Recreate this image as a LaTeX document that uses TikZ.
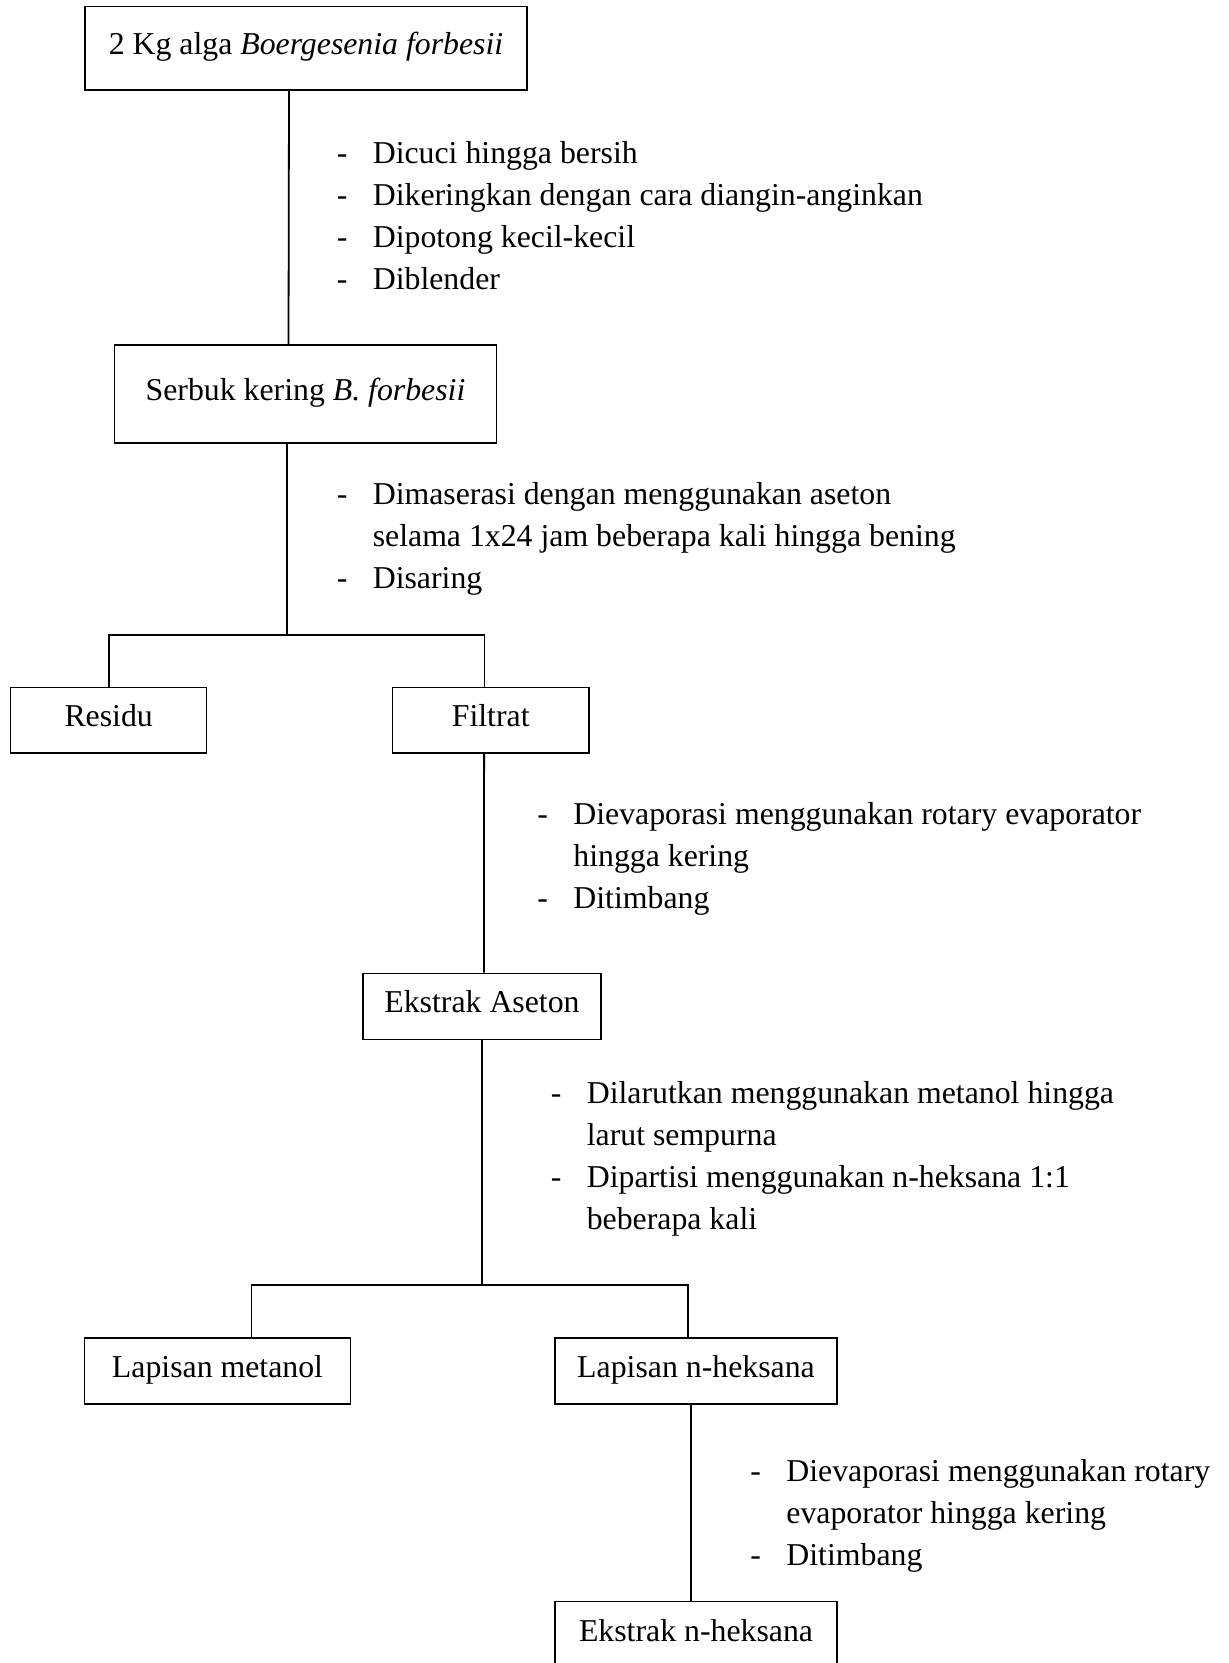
\documentclass[tikz,border=0pt]{standalone}
\usepackage{fontspec}
\setmainfont{Liberation Serif}
\usepackage{tikz}

\begin{document}
\begin{tikzpicture}[x=0.5pt,y=-0.5pt,
        box/.style={draw,line width=0.7pt,inner sep=0pt,minimum height=33pt,
            font=\fontsize{15.9}{21}\selectfont,text height=0.82em,text depth=0.18em},
        steps/.style={anchor=base west,inner sep=0pt,font=\fontsize{15.9}{21}\selectfont},
        link/.style={line width=0.9pt}]
        \useasboundingbox (0,0) rectangle (1229,1663);
        \clip (0,0) rectangle (1229,1663);
        \node[box,minimum width=221pt,minimum height=41.6pt] (alga) at (306,48.3) {2 Kg alga \textit{Boergesenia forbesii}};
        \node[box,minimum width=191pt,minimum height=49pt] (serbuk) at (305.5,394) {Serbuk kering \textit{B. forbesii}};
        \node[box,minimum width=98pt,minimum height=32.7pt] (residu) at (108.7,720.3) {Residu};
        \node[box,minimum width=98.3pt,minimum height=32.7pt] (filtrat) at (490.7,720.3) {Filtrat};
        \node[box,minimum width=119pt] (aseton) at (482,1006.3) {Ekstrak Aseton};
        \node[box,minimum width=132.8pt] (metanol) at (217.5,1371) {Lapisan metanol};
        \node[box,minimum width=141pt] (nheks) at (696,1371) {Lapisan n-heksana};
        \node[box,minimum width=141pt] (ekstrak) at (696,1634.7) {Ekstrak n-heksana};
        \node[steps] (cuci) at (336.4,164) {\begin{tabular}[t]{@{}p{18pt}@{}l@{}}
            - & Dicuci hingga bersih\\
            - & Dikeringkan dengan cara diangin-anginkan\\
            - & Dipotong kecil-kecil\\
            - & Diblender
        \end{tabular}};
        \node[steps] (maserasi) at (336.4,504) {\begin{tabular}[t]{@{}p{18pt}@{}l@{}}
            - & Dimaserasi dengan menggunakan aseton\\
              & selama 1x24 jam beberapa kali hingga bening\\
            - & Disaring
        \end{tabular}};
        \node[steps] (evap) at (537,824) {\begin{tabular}[t]{@{}p{18pt}@{}l@{}}
            - & Dievaporasi menggunakan rotary evaporator\\
              & hingga kering\\
            - & Ditimbang
        \end{tabular}};
        \node[steps] (partisi) at (550.4,1103.3) {\begin{tabular}[t]{@{}p{18pt}@{}l@{}}
            - & Dilarutkan menggunakan metanol hingga\\
              & larut sempurna\\
            - & Dipartisi menggunakan n-heksana 1:1\\
              & beberapa kali
        \end{tabular}};
        \node[steps] (evapb) at (750,1481) {\begin{tabular}[t]{@{}p{18pt}@{}l@{}}
            - & Dievaporasi menggunakan rotary\\
              & evaporator hingga kering\\
            - & Ditimbang
        \end{tabular}};
        \coordinate (pisah1) at (287,635);
        \coordinate (pisah2) at (482,1285);
        \draw[link] ([xshift=-8.5pt]alga.south) -- ([xshift=-8.5pt]serbuk.north);
        \draw[link] ([xshift=-9.25pt]serbuk.south) -- (pisah1);
        \draw[link] (residu.north) |- (pisah1) -| ([xshift=-3.1pt]filtrat.north);
        \draw[link] ([xshift=-3.3pt]filtrat.south) -- ([xshift=1pt]aseton.north);
        \draw[link] (aseton.south) -- (pisah2);
        \draw[link] ([xshift=17pt]metanol.north) |- (pisah2) -| ([xshift=-4pt]nheks.north);
        \draw[link] ([xshift=-2.7pt]nheks.south) -- ([xshift=-2.7pt]ekstrak.north);
    \end{tikzpicture}
\end{document}
